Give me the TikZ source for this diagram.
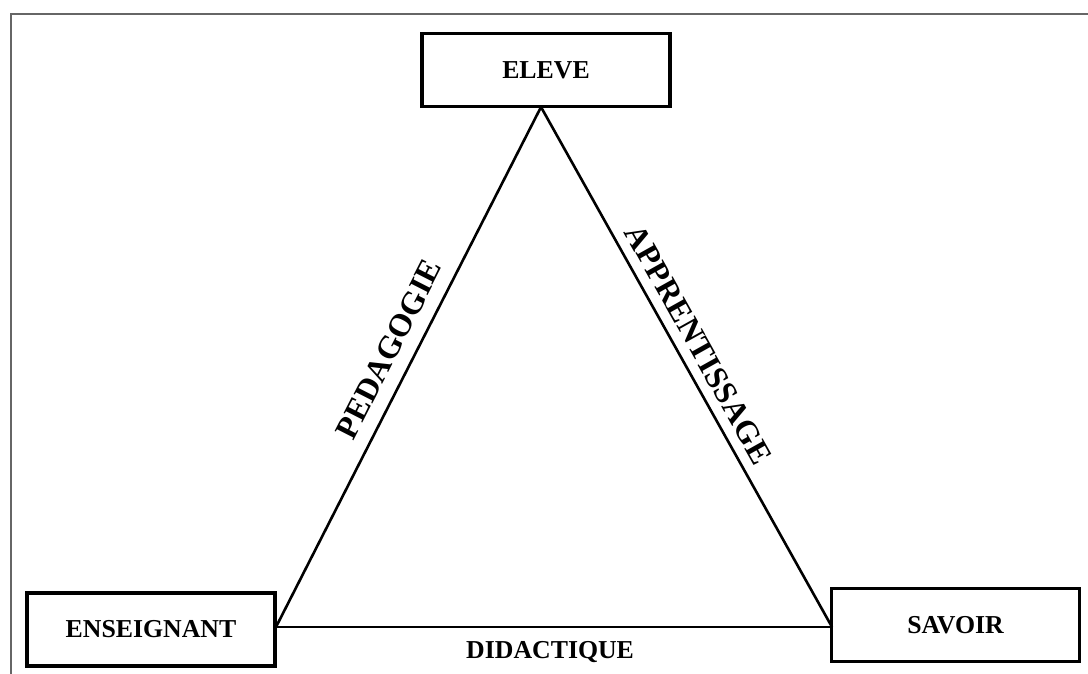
\documentclass[tikz,border=0pt]{standalone}
\usepackage{fontspec}
\setmainfont{Liberation Serif}
\begin{document}
\begin{tikzpicture}[x=.5pt,y=-.5pt,
  boite/.style={draw,line width=1.6pt,minimum width=124pt,minimum height=36.5pt,inner sep=0pt},
  cote/.style={line width=1.3pt},
  etiq/.style={font=\fontsize{12.9}{15}\selectfont\bfseries},
  penche/.style={font=\fontsize{16}{18}\selectfont\bfseries,sloped}]
\useasboundingbox (0,0) rectangle (1088,674);
\draw[line width=1.3pt,gray!80!black](11,674)--(11,14)--(1088,14);
\foreach \nom/\x/\y/\txt in {eleve/546/70/ELEVE,enseignant/151/629.5/ENSEIGNANT,savoir/955.5/625/SAVOIR}
{
    \node[boite,etiq] (\nom) at (\x,\y) {\txt};
}
\coordinate (sommet) at (541,107);
\coordinate (gauche) at (276,627);
\coordinate (droite) at (832,627);
\draw[cote](gauche)--node[penche,above=3.4pt,pos=.512]{PEDAGOGIE}(sommet);
\draw[cote](sommet)--node[penche,above=1.4pt,pos=.477]{APPRENTISSAGE}(droite);
\draw[cote](gauche)--node[etiq,below=3pt,pos=.493]{DIDACTIQUE}(droite);
\end{tikzpicture}
\end{document}
